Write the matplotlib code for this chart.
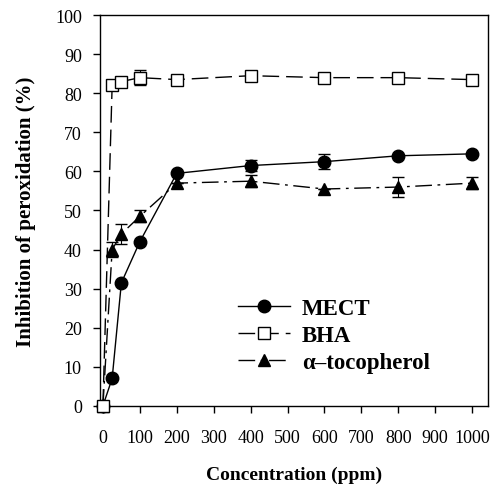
import matplotlib.pyplot as plt

plt.rcParams['font.family'] = ['Liberation Serif', 'DejaVu Serif']

# concentration (ppm)
conc = [0, 25, 50, 100, 200, 400, 600, 800, 1000]

# inhibition of peroxidation (%)
mect = [0, 7, 31.5, 42, 59.5, 61.5, 62.5, 64, 64.5]
mect_err = [0, 0, 0, 0, 0, 1.5, 2, 0, 0]
bha = [0, 82, 83, 84, 83.5, 84.5, 84, 84, 83.5]
bha_err = [0, 0, 0, 2, 0, 0, 0, 0, 0]
toco = [0, 40, 44, 48.5, 57, 57.5, 55.5, 56, 57]
toco_err = [0, 2, 2.5, 1.5, 0, 1.5, 0, 2.5, 1.5]

fig = plt.figure(figsize=(4.9, 4.89), dpi=100)
ax = fig.add_axes([0.204, 0.168, 0.792, 0.799])

series = [
    (mect, mect_err, '-', 'o', 'black', 'MECT', 3),
    (bha, bha_err, (0, (12, 5)), 's', 'white', 'BHA', 4),
    (toco, toco_err, (0, (12, 4, 2, 4)), '^', 'black', '\u03b1\u2013tocopherol', 3),
]
handles = []
for vals, err, ls, mk, fc, lab, z in series:
    ax.errorbar(conc, vals, yerr=err, fmt='none', ecolor='black',
                elinewidth=0.8, capsize=4, zorder=z, clip_on=False)
    h, = ax.plot(conc, vals, color='black', lw=1, ls=ls, marker=mk, ms=9,
                 mfc=fc, mec='black', label=lab, zorder=z, clip_on=False)
    handles.append(h)

ax.set_xlim(-8, 1043)
ax.set_ylim(0, 100)
ax.set_xticks(range(0, 1001, 100))
ax.set_yticks(range(0, 101, 10))
ax.tick_params(direction='out', length=5, width=1, labelsize=13)
ax.tick_params(axis='x', pad=12)
ax.tick_params(axis='y', pad=8)
for s in ax.spines.values():
    s.set_linewidth(1)

ax.set_xlabel('Concentration (ppm)', fontsize=14, fontweight='bold', labelpad=14)
ax.set_ylabel('Inhibition of peroxidation (%)', fontsize=15, fontweight='bold', labelpad=14)

ax.legend(handles=handles, loc='lower left', bbox_to_anchor=(0.355, 0.085),
          frameon=False, prop={'size': 16.5, 'weight': 'bold'},
          handlelength=2.3, handletextpad=0.5, labelspacing=0.25,
          borderpad=0, borderaxespad=0)

fig.savefig('out.png', dpi=100)
